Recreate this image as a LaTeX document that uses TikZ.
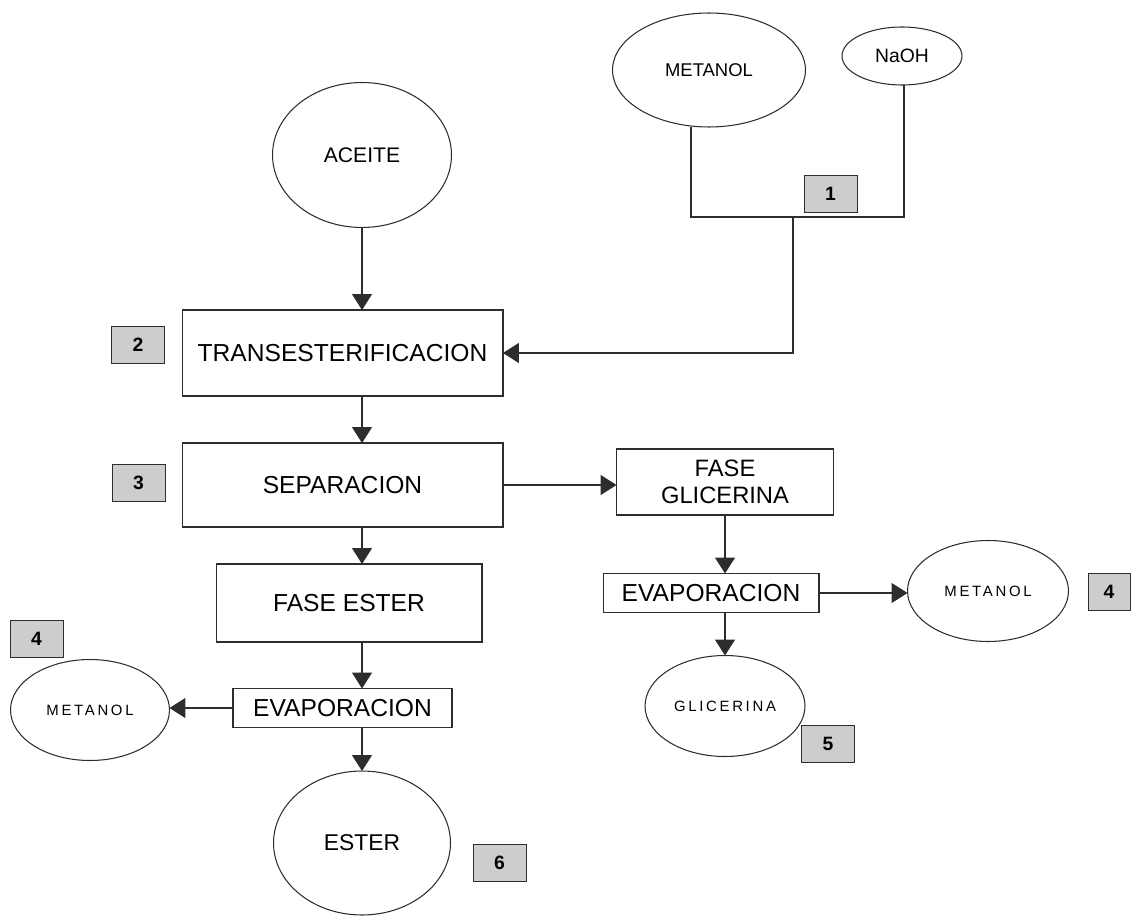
\documentclass[tikz,border=0pt]{standalone}
\usepackage{fontspec}
\setmainfont{Liberation Sans}
\newfontfamily\spaced[LetterSpace=18]{Liberation Sans}
\usetikzlibrary{arrows.meta,positioning,shapes.geometric,calc}
\definecolor{inkgray}{RGB}{45,45,45}
\definecolor{tagfill}{RGB}{205,205,205}

\begin{document}
\begin{tikzpicture}[x={(0.02cm,0)},y={(0,-0.02cm)},
  every node/.style={inner sep=0pt,outer sep=0pt},
  proc/.style={draw=inkgray,semithick,align=center,font=\fontsize{14}{16}\selectfont},
  feed/.style={draw=inkgray,semithick,ellipse,align=center},
  tag/.style={draw=inkgray,fill=tagfill,minimum width=1.06cm,minimum height=0.74cm,font=\bfseries\fontsize{11}{13}\selectfont},
  flow/.style={draw=inkgray,thick,-{Triangle[width=0.4cm,length=0.32cm]}},
  pipe/.style={draw=inkgray,thick}]
  \useasboundingbox (0,0) rectangle (1131,915);
  % raw materials
  \node[feed,minimum width=3.86cm,minimum height=2.28cm,font=\fontsize{10.5}{12}\selectfont] (metA) at (709,70) {METANOL};
  \node[feed,minimum width=2.4cm,minimum height=1.16cm,font=\fontsize{11}{13}\selectfont] (naoh) at (902,56) {NaOH};
  \node[feed,minimum width=3.58cm,minimum height=2.9cm,font=\fontsize{12}{14}\selectfont] (aceite) at (362,155) {ACEITE};
  % process steps
  \node[proc,minimum width=6.42cm,minimum height=1.72cm] (trans) at (342.5,353) {TRANSESTERIFICACION};
  \node[proc,minimum width=6.42cm,minimum height=1.68cm] (sep) at (342.5,485) {SEPARACION};
  \node[proc,minimum width=4.34cm,minimum height=1.32cm,font=\fontsize{13.5}{15.5}\selectfont] (fglic) at (725,482) {FASE\\GLICERINA};
  \node[proc,minimum width=4.32cm,minimum height=0.78cm] (evapR) at (711,593) {EVAPORACION};
  \node[proc,minimum width=5.32cm,minimum height=1.56cm] (fester) at (349,603) {FASE ESTER};
  \node[proc,minimum width=4.38cm,minimum height=0.78cm] (evapL) at (342.5,708) {EVAPORACION};
  % products
  \node[feed,minimum width=3.22cm,minimum height=2.02cm,font=\spaced\fontsize{8.5}{10}\selectfont] (metR) at (988,591) {METANOL};
  \node[feed,minimum width=3.2cm,minimum height=2.02cm,font=\spaced\fontsize{8.5}{10}\selectfont] (glic) at (725,706) {GLICERINA};
  \node[feed,minimum width=3.18cm,minimum height=2.02cm,font=\spaced\fontsize{8.5}{10}\selectfont] (metL) at (90,710) {METANOL};
  \node[feed,minimum width=3.54cm,minimum height=2.88cm,font=\fontsize{13}{15}\selectfont] (ester) at (362,843) {ESTER};
  % step numbers
  \node[tag] (n1) at (830.5,193.5) {1};
  \node[tag] (n2) at (138,345) {2};
  \node[tag] (n3) at (138.5,483) {3};
  \node[tag] (n4L) at (36.5,639) {4};
  \node[tag,minimum width=0.84cm] (n4R) at (1109,592) {4};
  \node[tag] (n5) at (828,744) {5};
  \node[tag] (n6) at (499.5,862.5) {6};
  % mixing of methanol and catalyst
  \coordinate (jL) at (691,217);
  \coordinate (jR) at (904,217);
  \coordinate (mix) at (793,217);
  \draw[pipe] (metA.south -| jL) -- (jL) -- (jR) -- (naoh.south -| jR);
  \draw[flow] (mix) |- (trans.east);
  % left column
  \draw[flow] (aceite.south) -- (aceite.south |- trans.north);
  \draw[flow] (aceite.south |- trans.south) -- (aceite.south |- sep.north);
  \draw[flow] (aceite.south |- sep.south) -- (aceite.south |- fester.north);
  \draw[flow] (aceite.south |- fester.south) -- (aceite.south |- evapL.north);
  \draw[flow] (aceite.south |- evapL.south) -- (ester.north);
  \draw[flow] (evapL.west) -- (evapL.west -| metL.east);
  % right column
  \draw[flow] (sep.east) -- (sep.east -| fglic.west);
  \draw[flow] (fglic.south) -- (fglic.south |- evapR.north);
  \draw[flow] (glic.north |- evapR.south) -- (glic.north);
  \draw[flow] (evapR.east) -- (evapR.east -| metR.west);
\end{tikzpicture}
\end{document}
